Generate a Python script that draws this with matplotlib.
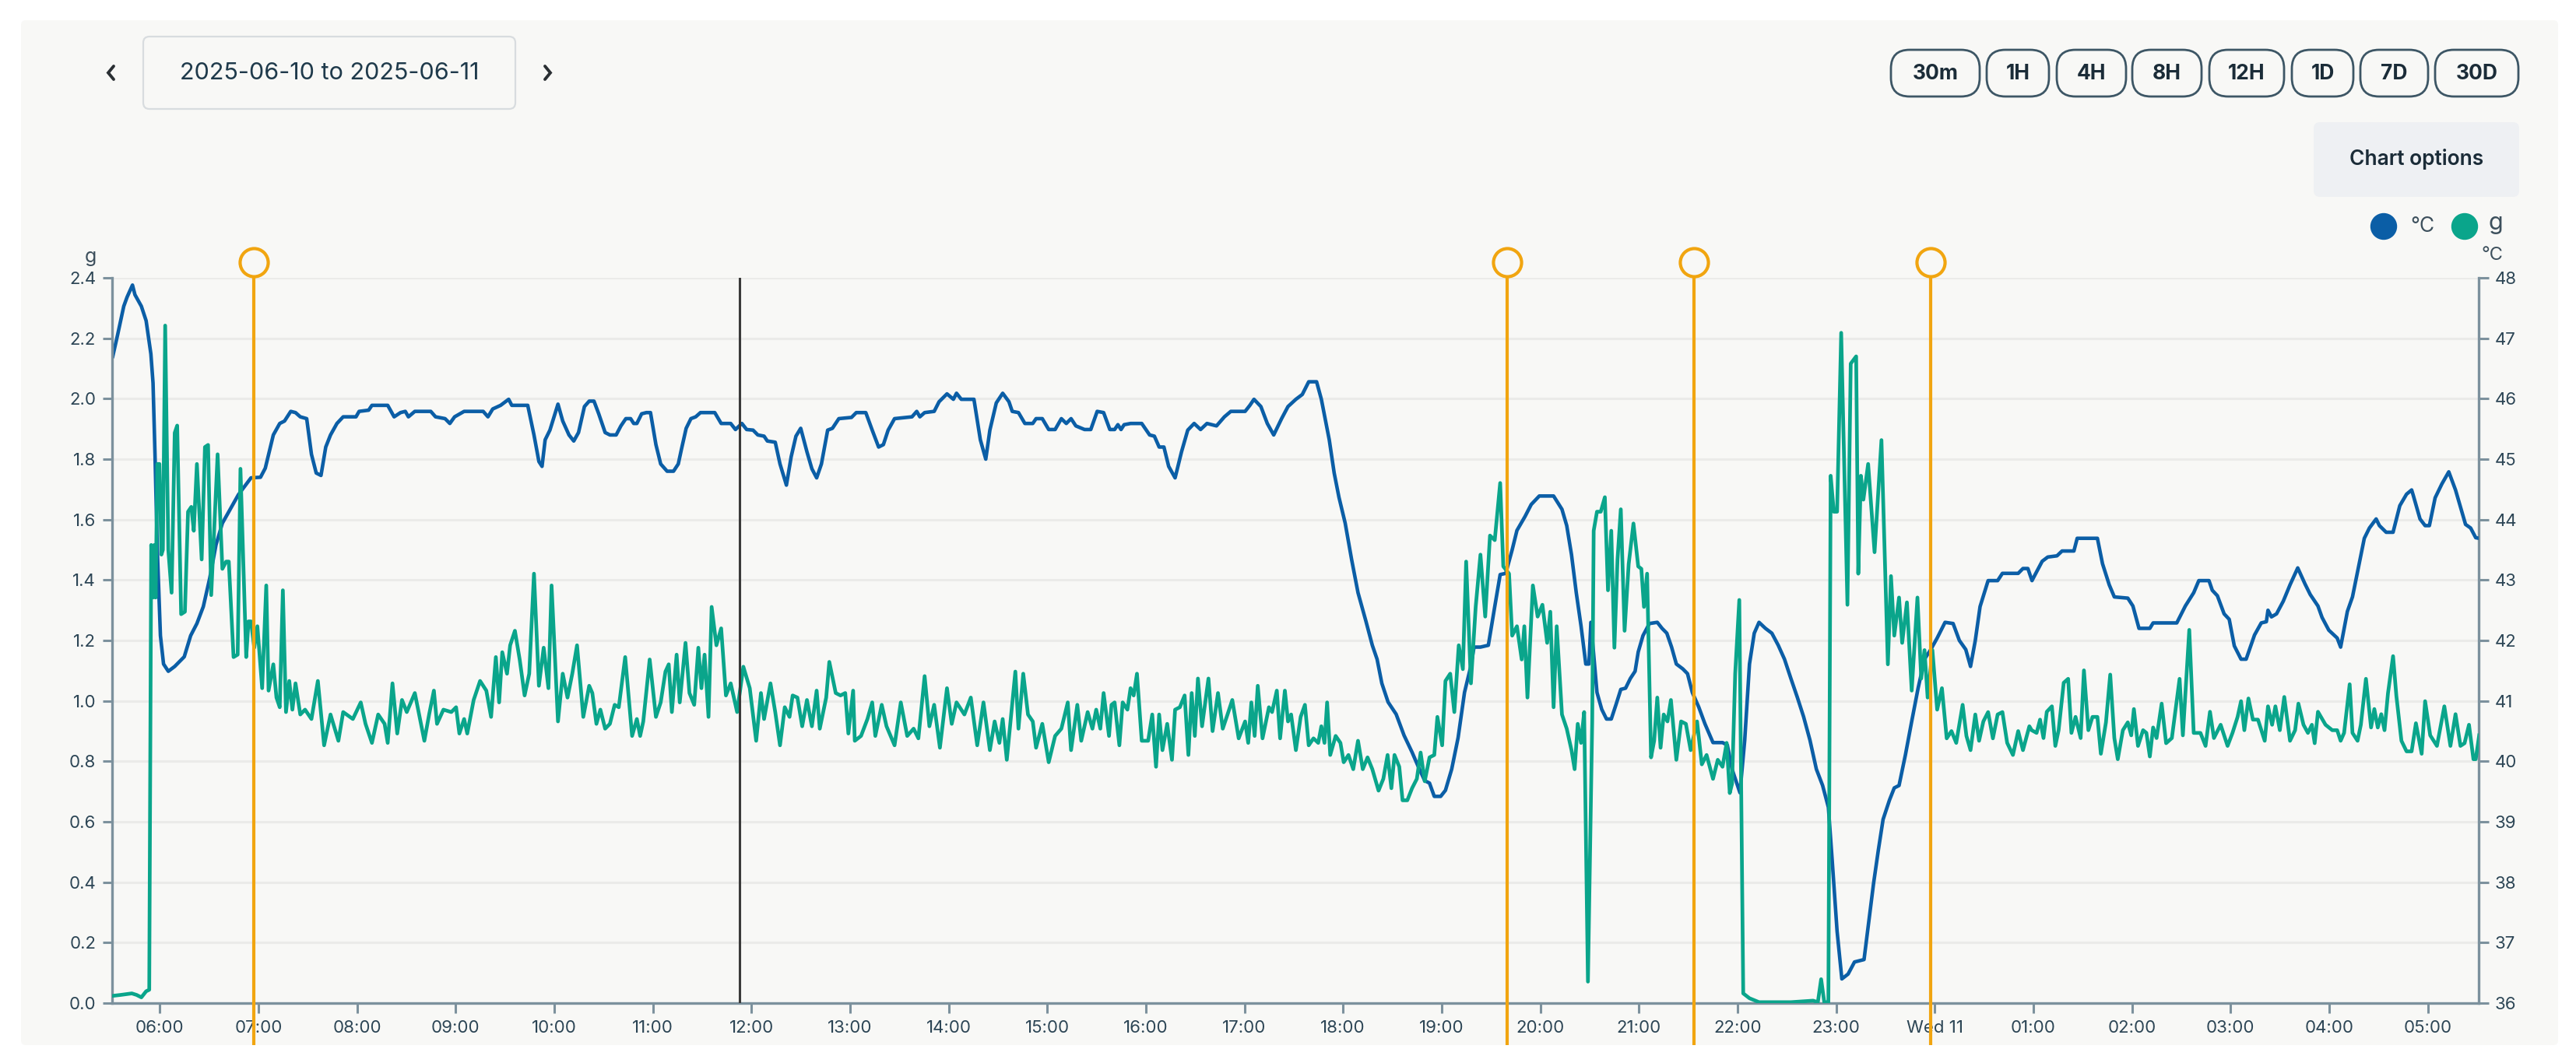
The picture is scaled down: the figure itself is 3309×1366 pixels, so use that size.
import matplotlib
matplotlib.use("Agg")
import matplotlib.pyplot as plt
from matplotlib.patches import FancyBboxPatch, Circle
from matplotlib.transforms import blended_transform_factory

plt.rcParams['font.family'] = ['Inter', 'DejaVu Sans']

# ---------------- data ----------------
DATE_RANGE_LABEL = "2025-06-10 to 2025-06-11"
RANGE_BUTTONS = ["30m", "1H", "4H", "8H", "12H", "1D", "7D", "30D"]
CHART_OPTIONS_LABEL = "Chart options"
LEGEND_LABELS = ["°C", "g"]

# time axis in minutes since 2025-06-10 00:00
X_START_MIN, X_END_MIN = 331, 1771
X_TICK_MIN = list(range(360, 1741, 60))
X_TICK_LABELS = ["06:00", "07:00", "08:00", "09:00", "10:00", "11:00", "12:00",
                 "13:00", "14:00", "15:00", "16:00", "17:00", "18:00", "19:00",
                 "20:00", "21:00", "22:00", "23:00", "Wed 11", "01:00", "02:00",
                 "03:00", "04:00", "05:00"]
G_TICKS = [0.0, 0.2, 0.4, 0.6, 0.8, 1.0, 1.2, 1.4, 1.6, 1.8, 2.0, 2.2, 2.4]
C_TICKS = [36, 37, 38, 39, 40, 41, 42, 43, 44, 45, 46, 47, 48]
EVENT_MARKERS_MIN = [417.1, 1180.0, 1293.5, 1437.6]
CURSOR_MIN = 712.8

# temperature (deg C), (minute, value)
TEMP_0531_1015 = [
    (331.4, 46.70), (334.3, 47.05), (338.1, 47.53), (340.1, 47.68), (343.4, 47.88), (344.9, 47.72),
    (348.8, 47.53), (351.7, 47.29), (354.6, 46.74), (355.9, 46.26), (357.1, 45.08), (358.5, 43.50),
    (360.4, 42.08), (362.3, 41.61), (365.2, 41.49), (369.1, 41.57), (374.9, 41.73), (378.8, 42.08),
    (382.6, 42.28), (386.5, 42.56), (390.4, 43.03), (394.2, 43.58), (398.1, 43.94), (402.0, 44.13),
    (407.8, 44.41), (415.5, 44.69), (421.3, 44.70), (424.2, 44.85), (429.1, 45.40), (433.0, 45.59),
    (435.9, 45.63), (439.7, 45.79), (442.6, 45.77), (445.5, 45.70), (449.4, 45.67), (452.3, 45.08),
    (455.2, 44.77), (458.1, 44.73), (461.0, 45.20), (463.9, 45.40), (467.8, 45.59), (471.6, 45.70),
    (479.4, 45.70), (481.3, 45.79), (487.1, 45.81), (489.1, 45.89), (498.7, 45.89), (502.6, 45.70),
    (506.5, 45.77), (509.4, 45.79), (511.3, 45.70), (515.2, 45.79), (524.9, 45.79), (527.8, 45.70),
    (533.6, 45.67), (536.5, 45.59), (539.4, 45.70), (545.2, 45.79), (556.8, 45.79), (559.7, 45.70),
    (562.6, 45.83), (567.4, 45.89), (572.3, 45.99), (574.2, 45.89), (583.9, 45.89), (587.7, 45.40),
    (590.7, 44.96), (592.6, 44.88), (594.5, 45.32), (597.4, 45.48), (602.3, 45.91), (605.2, 45.63),
    (609.0, 45.40), (611.9, 45.30), (614.8, 45.44),
]
TEMP_1015_1520 = [
    (618.4, 45.87), (621.3, 45.96), (624.2, 45.96), (627.1, 45.75), (631.0, 45.44), (633.9, 45.40),
    (637.7, 45.40), (640.6, 45.55), (643.6, 45.67), (646.5, 45.67), (648.4, 45.59), (650.3, 45.59),
    (653.2, 45.75), (656.1, 45.77), (658.6, 45.77), (661.9, 45.24), (664.8, 44.92), (668.7, 44.80),
    (672.6, 44.80), (675.5, 44.92), (677.4, 45.16), (680.3, 45.51), (683.2, 45.67), (686.1, 45.70),
    (689.0, 45.77), (697.7, 45.77), (701.6, 45.59), (707.4, 45.59), (710.3, 45.49), (714.2, 45.59),
    (717.1, 45.49), (721.0, 45.48), (723.9, 45.40), (727.7, 45.38), (729.7, 45.30), (734.5, 45.28),
    (737.4, 44.92), (741.3, 44.57), (744.2, 45.04), (747.1, 45.38), (750.0, 45.51), (753.8, 45.12),
    (756.8, 44.84), (759.7, 44.69), (762.6, 44.92), (766.4, 45.48), (769.3, 45.51), (773.2, 45.67),
    (780.9, 45.69), (783.8, 45.77), (789.6, 45.77), (793.5, 45.48), (797.4, 45.20), (800.3, 45.24),
    (803.2, 45.48), (807.1, 45.67), (817.7, 45.70), (820.6, 45.79), (822.5, 45.70), (825.4, 45.77),
    (831.2, 45.79), (834.2, 45.95), (839.0, 46.08), (842.9, 45.99), (844.8, 46.09), (847.7, 45.99),
    (855.4, 45.99), (859.3, 45.32), (862.6, 45.00), (865.1, 45.48), (869.0, 45.93), (872.9, 46.09),
    (876.7, 45.95), (878.7, 45.79), (882.5, 45.77), (886.4, 45.59), (891.2, 45.59), (893.2, 45.67),
    (897.0, 45.67), (900.9, 45.49), (904.8, 45.49), (908.6, 45.67), (911.6, 45.59), (914.5, 45.67),
    (917.4, 45.55),
]
TEMP_1520_2010 = [
    (922.7, 45.49), (926.5, 45.49), (930.4, 45.79), (934.3, 45.77), (938.1, 45.49), (941.0, 45.49),
    (943.0, 45.57), (944.9, 45.49), (946.8, 45.57), (950.7, 45.59), (957.5, 45.59), (962.3, 45.40),
    (965.2, 45.38), (968.1, 45.20), (971.0, 45.20), (973.9, 44.88), (977.8, 44.69), (981.7, 45.12),
    (985.5, 45.48), (989.4, 45.59), (993.3, 45.49), (997.2, 45.59), (1003.0, 45.55), (1007.8, 45.70),
    (1011.7, 45.79), (1020.4, 45.79), (1023.3, 45.89), (1025.8, 45.99), (1030.0, 45.87), (1033.9, 45.59),
    (1037.8, 45.40), (1042.6, 45.67), (1046.5, 45.87), (1051.3, 45.99), (1055.2, 46.07), (1059.1, 46.28),
    (1063.9, 46.28), (1066.8, 45.99), (1071.6, 45.32), (1074.6, 44.77), (1077.5, 44.37), (1081.3, 43.94),
    (1085.2, 43.34), (1089.1, 42.79), (1093.9, 42.32), (1097.8, 41.92), (1100.7, 41.69), (1103.6, 41.29),
    (1107.4, 40.98), (1112.3, 40.78), (1117.1, 40.43), (1122.0, 40.15), (1125.8, 39.91), (1129.7, 39.68),
    (1132.6, 39.64), (1135.5, 39.42), (1139.4, 39.42), (1142.3, 39.52), (1146.1, 39.87), (1150.0, 40.39),
    (1153.9, 41.14), (1157.7, 41.57), (1159.7, 41.89), (1163.6, 41.89), (1168.4, 41.92), (1172.3, 42.56),
    (1175.6, 43.09), (1179.0, 43.11), (1182.9, 43.50), (1185.8, 43.82), (1190.7, 44.05), (1194.5, 44.25),
    (1199.4, 44.39), (1208.1, 44.39),
]
TEMP_2010_0110 = [
    (1213.2, 44.17), (1216.1, 43.90), (1219.0, 43.42), (1221.9, 42.79), (1224.8, 42.24), (1227.7, 41.61),
    (1229.6, 41.61), (1230.8, 42.30), (1234.5, 41.14), (1237.4, 40.86), (1240.3, 40.70), (1243.2, 40.70),
    (1246.1, 40.94), (1249.0, 41.19), (1251.9, 41.21), (1254.8, 41.37), (1257.7, 41.49), (1259.6, 41.81),
    (1262.5, 42.08), (1266.4, 42.28), (1271.2, 42.30), (1274.1, 42.20), (1277.0, 42.12), (1279.9, 41.89),
    (1282.8, 41.61), (1286.7, 41.53), (1289.6, 41.45), (1292.5, 41.14), (1296.4, 40.90), (1300.2, 40.62),
    (1305.1, 40.31), (1310.9, 40.31), (1313.8, 40.27), (1316.7, 39.87), (1321.5, 39.48), (1324.4, 40.35),
    (1327.3, 41.61), (1330.2, 42.12), (1333.1, 42.30), (1337.0, 42.20), (1340.9, 42.12), (1344.8, 41.92),
    (1348.6, 41.69), (1352.5, 41.37), (1356.4, 41.06), (1360.2, 40.74), (1364.1, 40.35), (1368.0, 39.87),
    (1371.8, 39.60), (1375.3, 39.24), (1377.6, 38.37), (1380.6, 37.19), (1383.5, 36.40), (1387.3, 36.48),
    (1391.2, 36.68), (1397.0, 36.72), (1399.9, 37.35), (1402.8, 37.98), (1405.7, 38.53), (1408.6, 39.04),
    (1412.5, 39.36), (1415.4, 39.56), (1418.3, 39.60), (1422.2, 40.11), (1426.0, 40.66), (1429.9, 41.21),
    (1433.8, 41.69), (1437.6, 41.85), (1441.5, 42.04), (1446.3, 42.30), (1451.2, 42.28), (1455.0, 42.00),
    (1458.9, 41.85), (1461.8, 41.57), (1464.7, 42.00), (1467.6, 42.56), (1472.5, 42.99), (1478.3, 42.99),
    (1481.2, 43.11), (1490.8, 43.11), (1493.7, 43.19), (1496.7, 43.19), (1499.2, 42.99), (1501.5, 43.11),
    (1505.4, 43.31), (1508.8, 43.38),
]
TEMP_0110_0531 = [
    (1514.4, 43.40), (1517.5, 43.48), (1524.7, 43.48), (1526.7, 43.69), (1539.0, 43.69), (1542.1, 43.27),
    (1546.2, 42.92), (1549.3, 42.72), (1557.5, 42.70), (1560.6, 42.57), (1564.3, 42.20), (1570.9, 42.20),
    (1572.9, 42.29), (1587.3, 42.29), (1592.5, 42.57), (1597.6, 42.79), (1600.7, 42.99), (1606.9, 42.99),
    (1608.9, 42.83), (1612.0, 42.74), (1616.1, 42.44), (1619.2, 42.35), (1622.3, 41.91), (1626.4, 41.69),
    (1629.5, 41.69), (1634.6, 42.09), (1638.7, 42.29), (1641.8, 42.31), (1642.8, 42.50), (1644.9, 42.39),
    (1648.0, 42.44), (1652.1, 42.65), (1656.2, 42.92), (1660.9, 43.20), (1665.4, 42.93), (1668.5, 42.76),
    (1673.2, 42.57), (1675.7, 42.38), (1679.8, 42.17), (1684.9, 42.04), (1687.0, 41.89), (1691.1, 42.48),
    (1694.2, 42.72), (1697.3, 43.14), (1701.4, 43.69), (1704.5, 43.86), (1708.6, 44.01), (1710.6, 43.90),
    (1714.7, 43.79), (1718.9, 43.79), (1723.0, 44.23), (1727.1, 44.42), (1730.2, 44.49), (1731.2, 44.40),
    (1735.3, 44.01), (1738.4, 43.90), (1741.0, 43.90), (1744.5, 44.36), (1748.6, 44.59), (1752.8, 44.79),
    (1756.9, 44.49), (1759.9, 44.21), (1763.0, 43.92), (1766.1, 43.86), (1769.2, 43.70), (1771.3, 43.69),
]

# mass (g), (minute, value)
MASS_0531_1015 = [
    (331.4, 0.024), (336.2, 0.027), (343.0, 0.032), (345.9, 0.027), (348.8, 0.019), (351.7, 0.039),
    (353.6, 0.044), (354.8, 1.516), (355.9, 1.342), (356.7, 1.516), (357.5, 1.342), (358.5, 1.784),
    (359.8, 1.784), (361.0, 1.484), (361.9, 1.500), (363.3, 2.242), (365.2, 1.500), (367.2, 1.358),
    (369.1, 1.887), (370.6, 1.911), (373.0, 1.287), (375.3, 1.295), (377.2, 1.626), (379.2, 1.642),
    (380.7, 1.563), (382.6, 1.784), (385.5, 1.468), (387.5, 1.840), (389.4, 1.847), (391.3, 1.350),
    (395.2, 1.816), (398.1, 1.437), (400.4, 1.461), (402.0, 1.461), (404.9, 1.145), (407.4, 1.153),
    (409.1, 1.768), (412.6, 1.145), (414.0, 1.263), (415.5, 1.263), (417.5, 1.176), (419.4, 1.247),
    (422.3, 1.042), (424.8, 1.382), (426.2, 1.034), (429.1, 1.121), (431.0, 1.011), (433.0, 0.979),
    (434.9, 1.366), (436.8, 0.963), (438.8, 1.066), (440.7, 0.971), (442.6, 1.058), (445.5, 0.955),
    (448.4, 0.971), (452.3, 0.940), (456.2, 1.066), (460.0, 0.853), (463.9, 0.955), (468.7, 0.868),
    (471.6, 0.963), (477.5, 0.940), (482.3, 0.995), (485.2, 0.924), (489.1, 0.861), (492.9, 0.955),
    (496.8, 0.924), (498.7, 0.861), (501.6, 1.058), (504.5, 0.892), (507.4, 1.003), (510.3, 0.963),
    (515.2, 1.026), (518.1, 0.947), (521.0, 0.868), (523.9, 0.955), (526.8, 1.034), (528.7, 0.924),
    (532.6, 0.971), (537.4, 0.963), (540.3, 0.979), (542.3, 0.892), (545.2, 0.940), (547.1, 0.892),
    (551.0, 1.003), (554.9, 1.066), (558.7, 1.034), (561.6, 0.947), (564.5, 1.145), (566.5, 0.995),
    (568.4, 1.161), (571.3, 1.090), (573.2, 1.184), (576.1, 1.232), (579.0, 1.137), (582.0, 1.018),
    (584.8, 1.090), (587.7, 1.421), (590.7, 1.050), (593.6, 1.176), (596.5, 1.042), (598.4, 1.382),
    (602.3, 0.932), (605.2, 1.090), (608.1, 1.011), (611.0, 1.090), (613.9, 1.184), (617.7, 0.947),
]
MASS_1015_1520 = [
    (621.3, 1.050), (623.2, 1.026), (625.7, 0.924), (628.1, 0.971), (631.0, 0.908), (633.9, 0.924),
    (636.8, 0.987), (639.3, 0.979), (643.2, 1.145), (647.4, 0.884), (650.3, 0.940), (652.3, 0.884),
    (654.2, 0.932), (658.1, 1.137), (661.9, 0.947), (664.8, 0.995), (667.7, 1.097), (669.7, 1.121),
    (671.6, 0.963), (674.5, 1.153), (676.4, 0.995), (679.9, 1.192), (682.3, 1.026), (685.2, 0.987),
    (687.7, 1.176), (689.6, 1.042), (691.5, 1.153), (693.9, 0.947), (695.8, 1.311), (698.7, 1.184),
    (701.6, 1.240), (704.5, 1.018), (707.4, 1.058), (711.3, 0.963), (715.1, 1.113), (719.0, 1.042),
    (722.9, 0.868), (725.8, 1.026), (727.7, 0.940), (731.6, 1.058), (734.5, 0.963), (737.4, 0.853),
    (740.3, 0.979), (743.2, 0.947), (745.1, 1.018), (748.0, 1.011), (750.9, 0.916), (753.8, 1.003),
    (756.8, 0.916), (759.7, 1.034), (761.6, 0.908), (765.5, 1.011), (767.4, 1.129), (771.3, 1.026),
    (774.2, 1.018), (777.1, 1.026), (779.0, 0.892), (781.9, 1.034), (782.9, 0.868), (786.7, 0.884),
    (790.6, 0.940), (793.5, 0.995), (795.4, 0.884), (799.3, 0.987), (802.2, 0.916), (807.1, 0.853),
    (810.9, 0.995), (814.8, 0.884), (818.7, 0.908), (821.6, 0.876), (825.4, 1.082), (828.3, 0.916),
    (831.2, 0.987), (834.7, 0.845), (839.0, 1.042), (841.9, 0.924), (844.8, 0.995), (849.6, 0.955),
    (853.5, 1.011), (857.4, 0.853), (861.2, 0.995), (865.1, 0.837), (868.0, 0.932), (870.9, 0.861),
    (872.9, 0.940), (875.4, 0.805), (880.6, 1.097), (882.5, 0.908), (885.4, 1.090), (888.3, 0.955),
    (891.2, 0.932), (893.2, 0.845), (897.0, 0.924), (900.9, 0.797), (904.8, 0.884), (908.6, 0.908),
    (912.5, 0.995), (914.5, 0.837), (918.3, 0.987),
]
MASS_1520_2010 = [
    (920.7, 0.868), (924.6, 0.963), (927.5, 0.908), (929.8, 0.971), (932.3, 0.908), (934.3, 1.026),
    (937.6, 0.884), (939.1, 0.987), (941.0, 0.995), (943.9, 0.853), (945.9, 0.995), (948.8, 0.971),
    (950.7, 1.042), (952.6, 1.018), (954.6, 1.090), (957.5, 0.868), (961.4, 0.868), (963.9, 0.955),
    (966.2, 0.782), (968.1, 0.955), (970.1, 0.837), (973.0, 0.924), (975.9, 0.805), (977.8, 0.971),
    (980.7, 0.979), (983.6, 1.018), (985.9, 0.821), (987.9, 1.026), (989.8, 0.884), (991.7, 1.074),
    (994.2, 0.916), (998.1, 1.074), (1000.6, 0.900), (1003.9, 1.026), (1006.8, 0.908), (1009.7, 0.955),
    (1012.6, 1.003), (1016.5, 0.876), (1020.4, 0.932), (1022.3, 0.861), (1024.2, 0.995), (1026.2, 0.884),
    (1028.1, 1.050), (1031.0, 0.876), (1034.9, 0.979), (1036.8, 0.963), (1039.7, 1.034), (1041.7, 0.876),
    (1044.6, 1.034), (1046.5, 0.932), (1048.4, 0.955), (1051.3, 0.837), (1054.2, 0.947), (1056.8, 0.987),
    (1059.1, 0.853), (1062.0, 0.876), (1064.9, 0.861), (1066.8, 0.916), (1068.7, 0.861), (1070.3, 0.995),
    (1072.2, 0.821), (1075.5, 0.884), (1078.4, 0.861), (1080.4, 0.797), (1083.3, 0.821), (1086.2, 0.774),
    (1089.1, 0.868), (1092.0, 0.774), (1094.9, 0.813), (1097.8, 0.774), (1101.6, 0.703), (1104.5, 0.742),
    (1107.1, 0.821), (1109.4, 0.711), (1111.3, 0.821), (1114.2, 0.782), (1116.2, 0.671), (1119.1, 0.671),
    (1122.0, 0.711), (1124.9, 0.742), (1127.2, 0.829), (1129.7, 0.734), (1132.6, 0.813), (1135.5, 0.821),
    (1137.4, 0.947), (1140.3, 0.853), (1142.3, 1.066), (1145.2, 1.090), (1147.7, 0.963), (1150.4, 1.184),
    (1152.9, 1.105), (1154.9, 1.461), (1157.8, 1.058), (1160.7, 1.311), (1163.6, 1.484), (1166.5, 1.279),
    (1169.4, 1.547), (1172.3, 1.532), (1175.6, 1.721), (1177.5, 1.445), (1181.0, 1.421), (1182.9, 1.216),
    (1185.8, 1.247), (1188.7, 1.137), (1190.3, 1.247), (1192.2, 1.011), (1195.5, 1.382), (1198.4, 1.279),
    (1201.3, 1.318), (1204.2, 1.192), (1206.1, 1.295), (1208.1, 0.979), (1210.0, 1.247),
]
MASS_2010_0110 = [
    (1213.2, 0.955), (1216.1, 0.908), (1219.0, 0.837), (1220.9, 0.774), (1222.8, 0.924), (1224.8, 0.861),
    (1226.7, 0.963), (1229.0, 0.071), (1231.6, 0.932), (1232.5, 1.563), (1234.5, 1.626), (1236.8, 1.626),
    (1239.3, 1.674), (1241.2, 1.366), (1243.2, 1.563), (1245.1, 1.176), (1247.0, 1.468), (1249.0, 1.634),
    (1251.3, 1.232), (1253.8, 1.453), (1256.7, 1.587), (1259.6, 1.445), (1261.5, 1.437), (1263.1, 1.311),
    (1265.0, 1.421), (1267.4, 0.813), (1269.3, 0.868), (1271.2, 1.011), (1273.2, 0.845), (1275.1, 0.955),
    (1277.4, 0.932), (1279.5, 1.003), (1282.8, 0.805), (1285.7, 0.932), (1288.6, 0.924), (1291.5, 0.837),
    (1295.4, 0.932), (1298.3, 0.790), (1301.2, 0.821), (1305.1, 0.742), (1308.0, 0.805), (1310.9, 0.782),
    (1313.4, 0.861), (1315.3, 0.695), (1316.7, 0.726), (1318.6, 1.090), (1321.1, 1.334), (1323.5, 0.032),
    (1327.3, 0.016), (1333.1, 0.003), (1352.5, 0.003), (1366.0, 0.008), (1368.9, 0.003), (1370.9, 0.079),
    (1372.8, 0.003), (1375.3, 0.003), (1376.7, 1.745), (1378.6, 1.626), (1380.6, 1.626), (1383.1, 2.218),
    (1386.9, 1.318), (1388.9, 2.116), (1392.2, 2.140), (1393.5, 1.421), (1395.1, 1.745), (1396.6, 1.666),
    (1399.5, 1.784), (1403.4, 1.492), (1407.6, 1.863), (1411.5, 1.121), (1413.4, 1.413), (1415.4, 1.216),
    (1418.3, 1.342), (1420.2, 1.192), (1423.1, 1.326), (1426.0, 1.034), (1429.5, 1.342), (1431.8, 1.074),
    (1433.8, 1.168), (1435.7, 1.011), (1438.6, 1.168), (1441.5, 0.971), (1444.4, 1.042), (1447.3, 0.876),
    (1450.2, 0.900), (1453.1, 0.861), (1457.0, 0.987), (1459.3, 0.884), (1461.8, 0.837), (1464.7, 0.955),
    (1467.0, 0.868), (1469.6, 0.932), (1472.5, 0.963), (1475.4, 0.876), (1478.3, 0.955), (1481.2, 0.963),
    (1484.1, 0.861), (1487.6, 0.821), (1490.8, 0.900), (1493.7, 0.837), (1497.6, 0.916),
]
MASS_0110_0531 = [
    (1499.0, 0.903), (1502.0, 0.894), (1504.1, 0.938), (1506.2, 0.877), (1508.2, 0.964), (1511.3, 0.982),
    (1513.4, 0.851), (1515.4, 0.903), (1518.5, 1.060), (1521.2, 1.073), (1523.2, 0.894), (1525.7, 0.947),
    (1528.8, 0.877), (1530.8, 1.101), (1533.5, 0.903), (1536.0, 0.947), (1539.0, 0.947), (1541.1, 0.825),
    (1544.2, 0.929), (1546.8, 1.087), (1549.3, 0.877), (1551.4, 0.807), (1554.5, 0.903), (1557.5, 0.929),
    (1559.6, 0.886), (1561.2, 0.973), (1563.7, 0.851), (1566.8, 0.903), (1568.8, 0.894), (1570.9, 0.816),
    (1572.9, 0.912), (1575.0, 0.877), (1578.1, 0.991), (1580.8, 0.860), (1584.3, 0.877), (1589.0, 1.073),
    (1591.0, 0.886), (1594.9, 1.235), (1597.6, 0.894), (1601.7, 0.894), (1604.8, 0.851), (1607.5, 0.964),
    (1609.9, 0.877), (1614.0, 0.921), (1618.2, 0.851), (1621.2, 0.894), (1624.3, 0.947), (1626.4, 0.999),
    (1628.4, 0.903), (1630.9, 1.008), (1633.6, 0.938), (1636.7, 0.938), (1640.8, 0.868), (1642.8, 0.982),
    (1645.3, 0.921), (1647.3, 0.982), (1650.0, 0.903), (1652.7, 1.013), (1656.2, 0.868), (1659.3, 0.903),
    (1661.3, 0.991), (1664.4, 0.921), (1667.1, 0.894), (1669.5, 0.921), (1671.2, 0.860), (1673.2, 0.964),
    (1677.8, 0.921), (1681.9, 0.903), (1684.9, 0.903), (1687.0, 0.868), (1689.1, 0.894), (1692.5, 1.055),
    (1694.2, 0.894), (1697.3, 0.868), (1699.3, 0.921), (1702.4, 1.073), (1705.5, 0.912), (1707.5, 0.973),
    (1709.6, 0.912), (1711.7, 0.956), (1713.7, 0.903), (1715.8, 1.025), (1718.9, 1.148), (1720.9, 1.017),
    (1724.0, 0.868), (1727.1, 0.833), (1730.2, 0.833), (1732.8, 0.926), (1736.3, 0.825), (1738.4, 0.999),
    (1741.5, 0.886), (1745.6, 0.851), (1750.1, 0.982), (1753.8, 0.851), (1756.9, 0.956), (1759.9, 0.851),
    (1762.4, 0.860), (1765.1, 0.921), (1767.8, 0.807), (1769.2, 0.807), (1771.3, 0.886),
]

temp_pts = TEMP_0531_1015 + TEMP_1015_1520 + TEMP_1520_2010 + TEMP_2010_0110 + TEMP_0110_0531
mass_pts = MASS_0531_1015 + MASS_1015_1520 + MASS_1520_2010 + MASS_2010_0110 + MASS_0110_0531
temp_t = [p[0] for p in temp_pts]
temp_v = [p[1] for p in temp_pts]
mass_t = [p[0] for p in mass_pts]
mass_v = [p[1] for p in mass_pts]

# ---------------- style ----------------
W, H = 3309, 1366
BLUE = '#0b5ea6'
GREEN = '#0aa58b'
ORANGE = '#f1a510'
PANEL = '#f8f8f6'
TEXT = '#2c4555'
AXIS = '#7c919d'
GRID = '#ebebe9'
BTN_EDGE = '#3d5665'


def fy(y):
    return 1 - y / H


fig = plt.figure(figsize=(W / 100, H / 100), dpi=100)
fig.patch.set_facecolor('white')

# background layer (pixel coords)
bg = fig.add_axes([0, 0, 1, 1], zorder=0)
bg.set_xlim(0, W)
bg.set_ylim(H, 0)
bg.axis('off')
bg.add_patch(FancyBboxPatch((27, 26), 3286 - 27, 1343 - 26,
                            boxstyle='round,pad=0,rounding_size=6',
                            fc=PANEL, ec='none'))

# plot axes
L, R, T, B = 144, 3184, 357, 1289
ax_t = fig.add_axes([L / W, 1 - B / H, (R - L) / W, (B - T) / H], zorder=1)
ax_g = ax_t.twinx()
ax_g.set_zorder(2)
ax_t.patch.set_visible(False)
ax_g.patch.set_visible(False)

ax_t.yaxis.tick_right()
ax_g.yaxis.tick_left()

ax_t.plot(temp_t, temp_v, color=BLUE, lw=3.3, zorder=3, solid_joinstyle='round')
ax_g.plot(mass_t, mass_v, color=GREEN, lw=3.4, zorder=3, solid_joinstyle='round')

ax_t.set_xlim(X_START_MIN, X_END_MIN)
ax_t.set_ylim(36, 48)
ax_g.set_ylim(0, 2.4)

ax_t.set_yticks(C_TICKS)
ax_t.set_yticklabels([str(c) for c in C_TICKS])
ax_g.set_yticks(G_TICKS)
ax_g.set_yticklabels([f"{g:.1f}" for g in G_TICKS])
ax_t.set_xticks(X_TICK_MIN)
ax_t.set_xticklabels(X_TICK_LABELS)

ax_t.yaxis.grid(True, color=GRID, lw=2.2)
ax_t.set_axisbelow(True)

for a in (ax_t, ax_g):
    for s in a.spines.values():
        s.set_visible(False)
ax_t.spines['right'].set_visible(True)
ax_t.spines['bottom'].set_visible(True)
ax_g.spines['left'].set_visible(True)
for s in (ax_t.spines['right'], ax_t.spines['bottom'], ax_g.spines['left']):
    s.set_color(AXIS)
    s.set_linewidth(2.4)

ax_t.tick_params(axis='y', right=True, left=False, labelright=True, labelleft=False,
                 length=9, width=2.2, color=AXIS, labelsize=16, labelcolor=TEXT, pad=6)
ax_t.tick_params(axis='x', length=9, width=2.2, color=AXIS, labelsize=16,
                 labelcolor=TEXT, pad=7)
ax_g.tick_params(axis='y', left=True, right=False, labelleft=True, labelright=False,
                 length=9, width=2.2, color=AXIS, labelsize=16, labelcolor=TEXT, pad=6)

# cursor + event markers
ax_g.axvline(CURSOR_MIN, color='#3a3a3a', lw=2.2, zorder=5)
blend = blended_transform_factory(ax_g.transData, fig.transFigure)
for t in EVENT_MARKERS_MIN:
    ax_g.plot([t, t], [fy(1343), fy(356)], color=ORANGE, lw=3.0, transform=blend,
              clip_on=False, zorder=6, solid_capstyle='butt')
    ax_g.plot([t], [fy(337)], marker='o', ms=26, mfc=PANEL, mec=ORANGE, mew=3.0,
              transform=blend, clip_on=False, zorder=7)

# foreground UI layer (pixel coords)
fg = fig.add_axes([0, 0, 1, 1], zorder=3)
fg.set_xlim(0, W)
fg.set_ylim(H, 0)
fg.axis('off')
fg.patch.set_visible(False)

# date picker
fg.add_patch(FancyBboxPatch((184, 47), 662 - 184, 140 - 47,
                            boxstyle='round,pad=0,rounding_size=8',
                            fc=PANEL, ec='#d8dcdf', lw=1.6))
fg.text(423, 94, DATE_RANGE_LABEL, ha='center', va='center', fontsize=22,
        color='#1f3a4b')
fg.plot([146, 139, 146], [85, 93.5, 102], color='#2a2f33', lw=2.8,
        solid_capstyle='round', solid_joinstyle='miter')
fg.plot([700, 707, 700], [85, 93.5, 102], color='#2a2f33', lw=2.8,
        solid_capstyle='round', solid_joinstyle='miter')

# range buttons
BTN_EXTENTS = [(2429, 2543), (2552, 2632), (2642, 2731), (2739, 2828),
               (2838, 2934), (2944, 3023), (3032, 3119), (3128, 3235)]
for (x0, x1), lab in zip(BTN_EXTENTS, RANGE_BUTTONS):
    fg.add_patch(FancyBboxPatch((x0, 64), x1 - x0, 60,
                                boxstyle='round,pad=0,rounding_size=24',
                                fc=PANEL, ec=BTN_EDGE, lw=2.0))
    fg.text((x0 + x1) / 2, 95, lab, ha='center', va='center', fontsize=19,
            fontweight='bold', color='#1b2c38')

# chart options
fg.add_patch(FancyBboxPatch((2972, 157), 3236 - 2972, 253 - 157,
                            boxstyle='round,pad=0,rounding_size=8',
                            fc='#eef0f3', ec='none'))
fg.text(3104, 204, CHART_OPTIONS_LABEL, ha='center', va='center', fontsize=19,
        fontweight='semibold', color='#1b2c38')

# legend
fg.add_patch(Circle((3062, 291), 16.5, color=BLUE))
fg.text(3096, 291, LEGEND_LABELS[0], ha='left', va='center', fontsize=19, color='#3c4f5c')
fg.add_patch(Circle((3166, 291), 16.5, color=GREEN))
fg.text(3196, 287, LEGEND_LABELS[1], ha='left', va='center', fontsize=22, color='#3c4f5c')

# axis unit labels
fg.text(116, 330, 'g', ha='center', va='center', fontsize=18, color='#3c4f5c')
fg.text(3201, 328, '°C', ha='center', va='center', fontsize=17, color='#3c4f5c')

fig.savefig('out.png', dpi=100, facecolor='white')
